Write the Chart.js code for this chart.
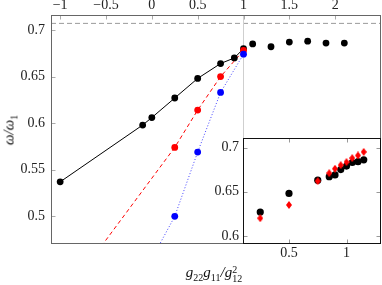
<!DOCTYPE html>
<html lang="en">
<head>
<meta charset="UTF-8">
<title>omega / omega1 vs g22 g11 / g12^2</title>
<script src="https://cdn.jsdelivr.net/npm/chart.js"></script>
<style>
    html, body { margin: 0; padding: 0; background: #fff; }
    #wrap { position: relative; width: 382px; height: 285px; font-family: "Liberation Serif", serif; color: #111; }
    #mainCanvas { position: absolute; left: 0; top: 0; }
    #insetCanvas { position: absolute; left: 200px; top: 126px; }
    .axis-title { position: absolute; font-style: italic; font-size: 15px; line-height: 1; white-space: nowrap; }
    .axis-title sub { font-size: 10px; line-height: 0; font-style: normal; }
    .axis-title .ss { display: inline-block; vertical-align: -5px; line-height: 9px; font-size: 10px; text-align: left; font-style: normal; }
    .axis-title .ss span { display: block; }
    #yTitle { left: 9px; top: 130px; transform: translate(-50%, -50%) rotate(-90deg); }
    #xTitle { left: 214px; top: 274px; transform: translate(-50%, -50%); }
</style>
</head>
<body>
<div id="wrap">
    <canvas id="mainCanvas" width="382" height="285"></canvas>
    <canvas id="insetCanvas" width="182" height="159"></canvas>
    <div class="axis-title" id="yTitle">ω/ω<sub>1</sub></div>
    <div class="axis-title" id="xTitle">g<sub>22</sub>g<sub>11</sub>/g<span class="ss"><span>2</span><span>12</span></span></div>
</div>

<script>
    // Main panel data
    const blackX = [-1, -0.1, 0, 0.25, 0.5, 0.75, 0.9, 1.0, 1.1, 1.3, 1.5, 1.7, 1.9, 2.1];
    const blackY = [0.537, 0.598, 0.606, 0.627, 0.648, 0.664, 0.670, 0.680, 0.685, 0.682, 0.687, 0.688, 0.686, 0.686];
    const redX = [0.25, 0.5, 0.75, 1.0];
    const redY = [0.574, 0.614, 0.650, 0.678];
    const redLineX = [-0.55, 0.25, 0.5, 0.75, 1.0];
    const redLineY = [0.468, 0.574, 0.614, 0.650, 0.678];
    const blueX = [0.25, 0.5, 0.75, 1.0];
    const blueY = [0.500, 0.569, 0.633, 0.674];
    const blueLineX = [0.0, 0.25, 0.5, 0.75, 1.0];
    const blueLineY = [0.4545, 0.500, 0.569, 0.633, 0.674];
    const refX = 1;          // vertical guide
    const refY = 0.7071;     // dashed guide, 1/sqrt(2)
    const mainXTicks = [-1, -0.5, 0, 0.5, 1, 1.5, 2];
    const mainYTicks = [0.5, 0.55, 0.6, 0.65, 0.7];
    const mainXRange = [-1.1, 2.5];
    const mainYRange = [0.4703, 0.7161];

    // Inset data
    const insetX = [0.25, 0.5, 0.75, 0.85, 0.9, 0.95, 1.0, 1.05, 1.1, 1.15];
    const insetBlackY = [0.627, 0.648, 0.663, 0.667, 0.669, 0.675, 0.679, 0.683, 0.684, 0.686];
    const insetRedY = [0.620, 0.635, 0.662, 0.671, 0.676, 0.680, 0.6835, 0.688, 0.691, 0.695];
    const insetXTicks = [0.5, 1];
    const insetYTicks = [0.6, 0.65, 0.7];
    const insetXRange = [0.1, 1.3];
    const insetYRange = [0.5908, 0.7103];

    const pts = (xs, ys) => xs.map((x, i) => ({x: x, y: ys[i]}));
    const fmt = v => (v < 0 ? '\u2212' + Math.abs(v) : String(v));
    const tickFont = {family: '"Liberation Serif", serif', size: 14};

    function makeDiamond(w, h, color) {
        const c = document.createElement('canvas');
        c.width = w; c.height = h;
        const g = c.getContext('2d');
        g.fillStyle = color;
        g.beginPath();
        g.moveTo(w / 2, 0); g.lineTo(w, h / 2); g.lineTo(w / 2, h); g.lineTo(0, h / 2);
        g.closePath();
        g.fill();
        return c;
    }

    // frame + inward tick marks
    const frameTicks = {
        id: 'frameTicks',
        beforeDraw(chart, args, o) {
            if (!o.fill) return;
            const a = chart.chartArea;
            chart.ctx.save();
            chart.ctx.fillStyle = o.fill;
            chart.ctx.fillRect(a.left, a.top, a.right - a.left, a.bottom - a.top);
            chart.ctx.restore();
        },
        afterDraw(chart, args, o) {
            const ctx = chart.ctx, a = chart.chartArea;
            const L = Math.round(a.left) + 0.5, R = Math.round(a.right) - 0.5;
            const T = Math.round(a.top) + 0.5, B = Math.round(a.bottom) - 0.5;
            ctx.save();
            ctx.lineWidth = 1;
            ctx.strokeStyle = o.tickColor;
            ctx.beginPath();
            chart.scales.x.ticks.forEach(t => {
                const px = Math.round(chart.scales.x.getPixelForValue(t.value)) + 0.5;
                if (o.sides.includes('top')) { ctx.moveTo(px, T); ctx.lineTo(px, T + 4); }
                if (o.sides.includes('bottom')) { ctx.moveTo(px, B); ctx.lineTo(px, B - 4); }
            });
            chart.scales.y.ticks.forEach(t => {
                const py = Math.round(chart.scales.y.getPixelForValue(t.value)) + 0.5;
                if (o.sides.includes('left')) { ctx.moveTo(L, py); ctx.lineTo(L + 4, py); }
                if (o.sides.includes('right')) { ctx.moveTo(R, py); ctx.lineTo(R - 4, py); }
            });
            ctx.stroke();
            ctx.strokeStyle = o.frameColor;
            ctx.strokeRect(L, T, R - L, B - T);
            ctx.restore();
        }
    };

    // Main chart
    new Chart(document.getElementById('mainCanvas'), {
        type: 'scatter',
        data: {
            datasets: [
                {data: [{x: mainXRange[0], y: refY}, {x: mainXRange[1], y: refY}], showLine: true,
                 borderColor: '#9a9a9a', borderWidth: 1, borderDash: [5, 3], pointRadius: 0, order: 10},
                {data: [{x: refX, y: mainYRange[0]}, {x: refX, y: mainYRange[1]}], showLine: true,
                 borderColor: '#cfcfcf', borderWidth: 1, pointRadius: 0, order: 9},
                {data: pts(blackX, blackY).filter(p => p.x <= refX), showLine: true,
                 borderColor: '#000', borderWidth: 1, pointRadius: 0, order: 8},
                {data: pts(redLineX, redLineY), showLine: true,
                 borderColor: '#ff0000', borderWidth: 1, borderDash: [4, 3], pointRadius: 0, order: 7},
                {data: pts(blueLineX, blueLineY), showLine: true,
                 borderColor: 'rgba(0,0,255,0.75)', borderWidth: 1, borderDash: [1, 2], pointRadius: 0, order: 6},
                {data: pts(blackX, blackY), pointRadius: 3.4, pointBackgroundColor: '#000', pointBorderWidth: 0, order: 3},
                {data: pts(redX, redY), pointRadius: 3.4, pointBackgroundColor: '#ff0000', pointBorderWidth: 0, order: 2},
                {data: pts(blueX, blueY), pointRadius: 3.4, pointBackgroundColor: '#0000ff', pointBorderWidth: 0, order: 1}
            ]
        },
        options: {
            responsive: false,
            animation: false,
            events: [],
            layout: {autoPadding: false, padding: {left: 0, right: 1, top: 0, bottom: 41}},
            plugins: {
                legend: {display: false},
                tooltip: {enabled: false},
                frameTicks: {sides: ['top', 'left'], tickColor: '#aaa', frameColor: '#666'}
            },
            scales: {
                x: {
                    type: 'linear', position: 'top', min: mainXRange[0], max: mainXRange[1],
                    grid: {display: false, drawTicks: false}, border: {display: false},
                    afterBuildTicks: s => { s.ticks = mainXTicks.map(v => ({value: v})); },
                    afterFit: s => { s.height = 15; },
                    ticks: {font: tickFont, color: '#222', padding: 1, maxRotation: 0, callback: fmt}
                },
                y: {
                    type: 'linear', min: mainYRange[0], max: mainYRange[1],
                    grid: {display: false, drawTicks: false}, border: {display: false},
                    afterBuildTicks: s => { s.ticks = mainYTicks.map(v => ({value: v})); },
                    afterFit: s => { s.width = 51; },
                    ticks: {font: tickFont, color: '#222', padding: 6, callback: fmt}
                }
            }
        },
        plugins: [frameTicks]
    });

    // Inset chart
    new Chart(document.getElementById('insetCanvas'), {
        type: 'scatter',
        data: {
            datasets: [
                {data: pts(insetX, insetBlackY), pointRadius: 3.6, pointBackgroundColor: '#000', pointBorderWidth: 0, order: 2},
                {data: pts(insetX, insetRedY), pointStyle: makeDiamond(6, 8, '#ff0000'), pointRadius: 4, order: 1}
            ]
        },
        options: {
            responsive: false,
            animation: false,
            events: [],
            layout: {autoPadding: false, padding: {left: 0, right: 1, top: 10, bottom: 0}},
            plugins: {
                legend: {display: false},
                tooltip: {enabled: false},
                frameTicks: {sides: ['top', 'bottom', 'left', 'right'], tickColor: '#999', frameColor: '#111', fill: '#fff'}
            },
            scales: {
                x: {
                    type: 'linear', min: insetXRange[0], max: insetXRange[1],
                    grid: {display: false, drawTicks: false}, border: {display: false},
                    afterBuildTicks: s => { s.ticks = insetXTicks.map(v => ({value: v})); },
                    afterFit: s => { s.height = 41; },
                    ticks: {font: tickFont, color: '#222', padding: 1, maxRotation: 0, callback: fmt}
                },
                y: {
                    type: 'linear', min: insetYRange[0], max: insetYRange[1],
                    grid: {display: false, drawTicks: false}, border: {display: false},
                    afterBuildTicks: s => { s.ticks = insetYTicks.map(v => ({value: v})); },
                    afterFit: s => { s.width = 43; },
                    ticks: {font: tickFont, color: '#222', padding: 4, callback: fmt}
                }
            }
        },
        plugins: [frameTicks]
    });
</script>
</body>
</html>
